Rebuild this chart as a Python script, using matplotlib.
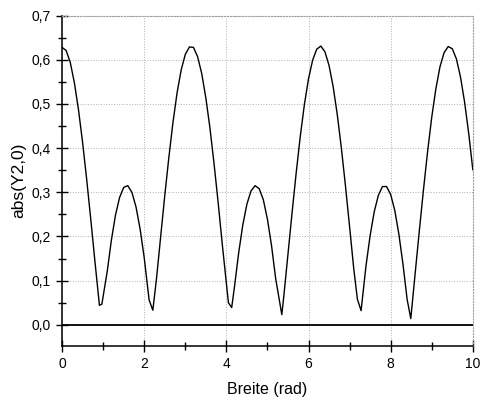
import matplotlib
matplotlib.use("Agg")
from matplotlib import pyplot as plt
from matplotlib.ticker import MultipleLocator, FuncFormatter

# values
breite = [0.0, 0.1, 0.2, 0.3, 0.4, 0.5, 0.6, 0.7, 0.8, 0.91, 0.97,
          1.1, 1.2, 1.3, 1.4, 1.5, 1.6, 1.7, 1.8, 1.9, 2.0, 2.12, 2.21,
          2.3, 2.4, 2.5, 2.6, 2.7, 2.8, 2.9, 3.0, 3.1, 3.2, 3.3, 3.4,
          3.5, 3.6, 3.7, 3.8, 3.9, 4.05, 4.13, 4.2, 4.3, 4.4, 4.5, 4.6,
          4.7, 4.8, 4.9, 5.0, 5.1, 5.2, 5.35, 5.4, 5.5, 5.6, 5.7, 5.8,
          5.9, 6.0, 6.1, 6.2, 6.3, 6.4, 6.5, 6.6, 6.7, 6.8, 6.9, 7.0,
          7.1, 7.19, 7.28, 7.4, 7.5, 7.6, 7.7, 7.8, 7.9, 8.0, 8.1, 8.2,
          8.3, 8.4, 8.49, 8.6, 8.7, 8.8, 8.9, 9.0, 9.1, 9.2, 9.3, 9.4,
          9.5, 9.6, 9.7, 9.8, 9.9, 10.0]
abs_y20 = [0.628, 0.621, 0.594, 0.548, 0.487, 0.413, 0.329, 0.238, 0.144, 0.044, 0.047,
           0.121, 0.191, 0.248, 0.288, 0.311, 0.315, 0.300, 0.267, 0.217, 0.152, 0.056, 0.033,
           0.105, 0.199, 0.292, 0.379, 0.458, 0.525, 0.577, 0.612, 0.629, 0.628, 0.607, 0.569,
           0.514, 0.446, 0.365, 0.277, 0.183, 0.050, 0.039, 0.088, 0.163, 0.226, 0.273, 0.303,
           0.315, 0.308, 0.283, 0.239, 0.179, 0.105, 0.023, 0.066, 0.160, 0.254, 0.344, 0.427,
           0.499, 0.557, 0.599, 0.624, 0.631, 0.618, 0.587, 0.539, 0.476, 0.400, 0.314, 0.222,
           0.128, 0.058, 0.032, 0.134, 0.202, 0.256, 0.293, 0.313, 0.313, 0.295, 0.259, 0.205,
           0.137, 0.058, 0.014, 0.120, 0.215, 0.307, 0.393, 0.470, 0.534, 0.584, 0.616, 0.630,
           0.625, 0.602, 0.561, 0.504, 0.433, 0.351]

plt.rcParams["font.family"] = ["Liberation Sans", "DejaVu Sans"]

fig = plt.figure(figsize=(4.81, 4.0), dpi=100)
ax = fig.add_axes([0.129, 0.135, 0.854, 0.826])

ax.plot(breite, abs_y20, color="black", lw=1.0)
ax.axhline(0.0, color="black", lw=1.3)

ax.set_xlim(0, 10)
ax.set_ylim(-0.048, 0.7)

ax.xaxis.set_major_locator(MultipleLocator(2))
ax.xaxis.set_minor_locator(MultipleLocator(1))
ax.yaxis.set_major_locator(MultipleLocator(0.1))
ax.yaxis.set_minor_locator(MultipleLocator(0.05))
ax.yaxis.set_major_formatter(FuncFormatter(lambda v, p: f"{v:.1f}".replace(".", ",")))
ax.xaxis.set_major_formatter(FuncFormatter(lambda v, p: f"{v:.0f}"))

ax.tick_params(which="major", direction="inout", length=9, width=1, labelsize=10)
ax.tick_params(which="minor", direction="inout", length=6, width=1)
ax.tick_params(top=False, right=False, which="both")

ax.grid(True, which="major", color="#b0b0b0", ls=":", lw=0.7)
for side in ["top", "right"]:
    ax.spines[side].set_color("#a0a0a0")
    ax.spines[side].set_linestyle(":")
    ax.spines[side].set_linewidth(0.8)
for side in ["left", "bottom"]:
    ax.spines[side].set_linewidth(1.1)

ax.set_xlabel("Breite (rad)", fontsize=11.5, labelpad=8)
ax.set_ylabel("abs(Y2,0)", fontsize=12.5, labelpad=4)

fig.savefig("out.png", dpi=100)
